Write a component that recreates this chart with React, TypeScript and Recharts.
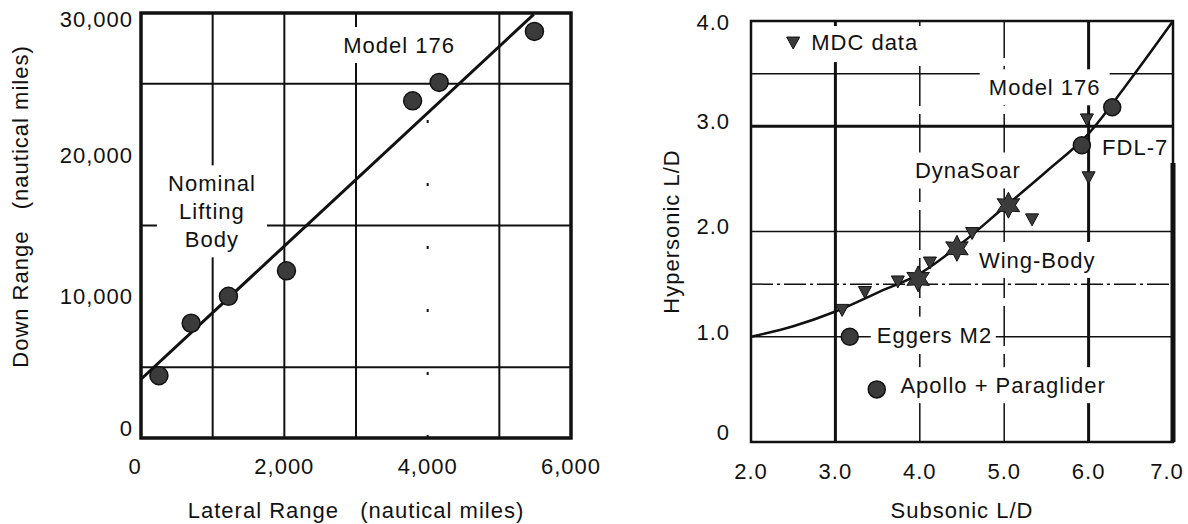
import React from "react"
import {
    ComposedChart,
    XAxis,
    YAxis,
    Line,
    Scatter,
    ReferenceLine,
    ReferenceArea,
    ReferenceDot,
    Label,
} from "recharts"

const FONT = '"Liberation Sans", Arial, Helvetica, sans-serif'
const INK = "#111"
const MARK = "#3b3b3b"

// ---- left chart: lateral vs down range (nautical miles)
const lateralRange = [250, 700, 1220, 2030, 3790, 4160, 5490]
const downRange = [4400, 8100, 10000, 11800, 23800, 25100, 28700]
const fitLateral = [0, 5480]
const fitDown = [4150, 29900]
const lateralTicks = [0, 2000, 4000, 6000]
const downTicks = [0, 10000, 20000, 30000]
const lateralGrid = [1000, 2000, 3000, 5000]
const lateralGridDotted = [4000]
const downGrid = [5000, 15000, 25000]

// ---- right chart: subsonic vs hypersonic L/D
const curveSub = [2.0, 2.5, 3.0, 3.5, 4.0, 4.5, 5.0, 5.5, 6.0, 6.5, 7.0]
const curveHyper = [1.0, 1.1, 1.24, 1.42, 1.6, 1.89, 2.23, 2.57, 2.93, 3.45, 4.0]
const vehicleSub = [6.28, 5.92, 3.17, 3.49]
const vehicleHyper = [3.18, 2.82, 1.0, 0.5]
const starSub = [5.05, 4.44, 3.98]
const starHyper = [2.25, 1.84, 1.55]
const mdcSub = [5.98, 6.0, 5.33, 4.62, 4.12, 3.74, 3.35, 3.08]
const mdcHyper = [3.07, 2.52, 2.12, 1.99, 1.71, 1.53, 1.43, 1.26]
const subTicks = [2, 3, 4, 5, 6, 7]
const hyperTicks = [0, 1, 2, 3, 4]
const subGridSolid = [3, 6]
const subGridDashed = [4, 5]
const hyperGridSolid = [1, 2, 3.5]
const hyperGridThick = [3]
const hyperGridDashDot = [1.5]

const pairs = (xs: number[], ys: number[]) => xs.map((x, i) => ({ x, y: ys[i] }))

const textStyle = {
    fontFamily: FONT,
    fontSize: 22,
    fill: INK,
    letterSpacing: 1,
}

// text note with a white box behind it (it breaks the grid lines like the original)
const note =
    (lines: string[], anchor: "start" | "middle", boxW: number, lineH = 28) =>
    (p: any) => {
        const h = lines.length * lineH
        const top = p.cy - h / 2
        const left = anchor === "middle" ? p.cx - boxW / 2 : p.cx - 6
        return (
            <g>
                <rect x={left} y={top - 4} width={boxW} height={h + 8} fill="#fff" />
                {lines.map((t, i) => (
                    <text
                        key={t}
                        x={p.cx}
                        y={top + lineH * i + lineH / 2}
                        dy="0.36em"
                        textAnchor={anchor}
                        style={{ ...textStyle, whiteSpace: "pre" }}
                    >
                        {t}
                    </text>
                ))}
            </g>
        )
    }

const dot = (r: number) => (p: any) => (
    <circle cx={p.cx} cy={p.cy} r={r} fill={MARK} stroke={INK} strokeWidth={1.5} />
)

const triangle = (p: any) => (
    <polygon
        points={`${p.cx - 6.5},${p.cy - 5} ${p.cx + 6.5},${p.cy - 5} ${p.cx},${p.cy + 7}`}
        fill={MARK}
        stroke={INK}
        strokeWidth={1}
    />
)

const star = (p: any) => {
    const pts: string[] = []
    for (let k = 0; k < 12; k++) {
        const r = k % 2 === 0 ? 13 : 7
        const a = (Math.PI / 6) * k - Math.PI / 2
        pts.push(`${p.cx + r * Math.cos(a)},${p.cy + r * Math.sin(a)}`)
    }
    return <polygon points={pts.join(" ")} fill={MARK} stroke={INK} strokeWidth={1} />
}

const legendMark = (p: any) => (
    <g>
        <rect x={p.cx - 12} y={p.cy - 16} width={140} height={36} fill="#fff" />
        <polygon
            points={`${p.cx - 6.5},${p.cy - 5} ${p.cx + 6.5},${p.cy - 5} ${p.cx},${p.cy + 7}`}
            fill={MARK}
            stroke={INK}
        />
        <text x={p.cx + 18} y={p.cy} dy="0.36em" style={textStyle}>
            MDC data
        </text>
    </g>
)

const yTick = (fmt: (v: number) => string, shift: (v: number) => number) => (p: any) => (
    <text
        x={p.x}
        y={p.y + shift(p.payload.value)}
        dy="0.36em"
        textAnchor="end"
        style={textStyle}
    >
        {fmt(p.payload.value)}
    </text>
)

const xTick = (fmt: (v: number) => string, shift: (v: number) => number) => (p: any) => (
    <text
        x={p.x + shift(p.payload.value)}
        y={p.y}
        dy="0.71em"
        textAnchor="middle"
        style={textStyle}
    >
        {fmt(p.payload.value)}
    </text>
)

const xTitle = (text: string, down: number) => (p: any) => {
    const vb = p.viewBox
    return (
        <text
            x={vb.x + vb.width / 2}
            y={vb.y + down}
            dy="0.36em"
            textAnchor="middle"
            style={{ ...textStyle, whiteSpace: "pre" }}
        >
            {text}
        </text>
    )
}

const yTitle = (text: string, cx: number, lift: number) => (p: any) => {
    const vb = p.viewBox
    const cy = vb.y + vb.height / 2 - lift
    return (
        <text
            x={cx}
            y={cy}
            dy="0.36em"
            textAnchor="middle"
            transform={`rotate(-90, ${cx}, ${cy})`}
            style={{ ...textStyle, whiteSpace: "pre" }}
        >
            {text}
        </text>
    )
}

function RangeChart() {
    return (
        <ComposedChart
            width={620}
            height={524}
            margin={{ top: 13, right: 49, bottom: 0, left: 0 }}
        >
            <XAxis
                type="number"
                dataKey="x"
                domain={[0, 6000]}
                ticks={lateralTicks}
                axisLine={false}
                tickLine={false}
                tickSize={0}
                tickMargin={20}
                height={86}
                tick={xTick(
                    (v) => v.toLocaleString("en-US"),
                    (v) => (v === 0 ? -6 : 0)
                )}
                allowDataOverflow
            >
                <Label content={xTitle("Lateral Range   (nautical miles)", 72)} />
            </XAxis>
            <YAxis
                type="number"
                dataKey="y"
                domain={[0, 30000]}
                ticks={downTicks}
                axisLine={false}
                tickLine={false}
                tickSize={0}
                tickMargin={8}
                width={141}
                tick={yTick(
                    (v) => v.toLocaleString("en-US"),
                    (v) => (v === 0 ? -10 : v === 30000 ? 6 : 0)
                )}
                allowDataOverflow
            >
                <Label content={yTitle("Down Range   (nautical miles)", 20, 19)} />
            </YAxis>

            {downGrid.map((v) => (
                <ReferenceLine key={`h${v}`} y={v} stroke={INK} strokeWidth={2} />
            ))}
            {lateralGrid.map((v) => (
                <ReferenceLine key={`v${v}`} x={v} stroke={INK} strokeWidth={2} />
            ))}
            {lateralGridDotted.map((v) => (
                <ReferenceLine
                    key={`d${v}`}
                    x={v}
                    stroke={INK}
                    strokeWidth={2}
                    strokeDasharray="3 60"
                />
            ))}
            <ReferenceArea
                x1={0}
                x2={6000}
                y1={0}
                y2={30000}
                fill="none"
                stroke={INK}
                strokeWidth={3.5}
            />

            <ReferenceDot
                x={990}
                y={16000}
                shape={note(["Nominal", "Lifting", "Body"], "middle", 110)}
            />
            <ReferenceDot x={3600} y={27740} shape={note(["Model 176"], "middle", 125)} />

            <Line
                data={pairs(fitLateral, fitDown)}
                dataKey="y"
                stroke={INK}
                strokeWidth={3}
                dot={false}
                isAnimationActive={false}
            />
            <Scatter
                data={pairs(lateralRange, downRange)}
                shape={dot(9)}
                isAnimationActive={false}
            />
        </ComposedChart>
    )
}

function LiftDragChart() {
    return (
        <ComposedChart
            width={588}
            height={524}
            margin={{ top: 21, right: 15, bottom: 0, left: 0 }}
        >
            <XAxis
                type="number"
                dataKey="x"
                domain={[2, 7]}
                ticks={subTicks}
                axisLine={false}
                tickLine={false}
                tickSize={0}
                tickMargin={21}
                height={82}
                tick={xTick((v) => v.toFixed(1), (v) => (v === 7 ? -6 : 0))}
                allowDataOverflow
            >
                <Label content={xTitle("Subsonic L/D", 68)} />
            </XAxis>
            <YAxis
                type="number"
                dataKey="y"
                domain={[0, 4]}
                ticks={hyperTicks}
                axisLine={false}
                tickLine={false}
                tickSize={0}
                tickMargin={21}
                width={151}
                tick={yTick(
                    (v) => (v === 0 ? "0" : v.toFixed(1)),
                    (v) => (v === 0 ? -10 : v === 4 ? 1 : -5)
                )}
                allowDataOverflow
            >
                <Label content={yTitle("Hypersonic L/D", 71, 0)} />
            </YAxis>

            {hyperGridSolid.map((v) => (
                <ReferenceLine key={`h${v}`} y={v} stroke={INK} strokeWidth={1.5} />
            ))}
            {hyperGridThick.map((v) => (
                <ReferenceLine key={`t${v}`} y={v} stroke={INK} strokeWidth={3} />
            ))}
            {hyperGridDashDot.map((v) => (
                <ReferenceLine
                    key={`dd${v}`}
                    y={v}
                    stroke={INK}
                    strokeWidth={1.5}
                    strokeDasharray="22 4 3 4"
                />
            ))}
            {subGridSolid.map((v) => (
                <ReferenceLine key={`v${v}`} x={v} stroke={INK} strokeWidth={3} />
            ))}
            {subGridDashed.map((v) => (
                <ReferenceLine
                    key={`vd${v}`}
                    x={v}
                    stroke={INK}
                    strokeWidth={1.5}
                    strokeDasharray="40 8"
                />
            ))}
            <ReferenceArea x1={2} x2={7} y1={0} y2={4} fill="none" stroke={INK} strokeWidth={2.5} />
            <ReferenceLine
                segment={[
                    { x: 7, y: 0 },
                    { x: 7, y: 2.65 },
                ]}
                stroke={INK}
                strokeWidth={5}
            />

            <ReferenceDot x={2.5} y={3.8} shape={legendMark} />
            <ReferenceDot x={5.48} y={3.37} shape={note(["Model 176"], "middle", 130)} />
            <ReferenceDot x={6.16} y={2.8} shape={note(["FDL-7"], "start", 72)} />
            <ReferenceDot x={4.57} y={2.58} shape={note(["DynaSoar"], "middle", 112)} />
            <ReferenceDot x={4.7} y={1.73} shape={note(["Wing-Body"], "start", 130)} />
            <ReferenceDot x={3.49} y={1.02} shape={note(["Eggers M2"], "start", 125)} />
            <ReferenceDot
                x={3.77}
                y={0.54}
                shape={note(["Apollo + Paraglider"], "start", 210)}
            />

            <Line
                data={pairs(curveSub, curveHyper)}
                dataKey="y"
                type="monotone"
                stroke={INK}
                strokeWidth={2.5}
                dot={false}
                isAnimationActive={false}
            />
            <Scatter data={pairs(mdcSub, mdcHyper)} shape={triangle} isAnimationActive={false} />
            <Scatter data={pairs(starSub, starHyper)} shape={star} isAnimationActive={false} />
            <Scatter
                data={pairs(vehicleSub, vehicleHyper)}
                shape={dot(8.5)}
                isAnimationActive={false}
            />
        </ComposedChart>
    )
}

export default function App() {
    return (
        <div
            style={{
                position: "absolute",
                left: 0,
                top: 0,
                width: 1188,
                height: 524,
                background: "#fff",
                fontFamily: FONT,
            }}
        >
            <div style={{ position: "absolute", left: 0, top: 0 }}>
                <RangeChart />
            </div>
            <div style={{ position: "absolute", left: 600, top: 0 }}>
                <LiftDragChart />
            </div>
        </div>
    )
}
